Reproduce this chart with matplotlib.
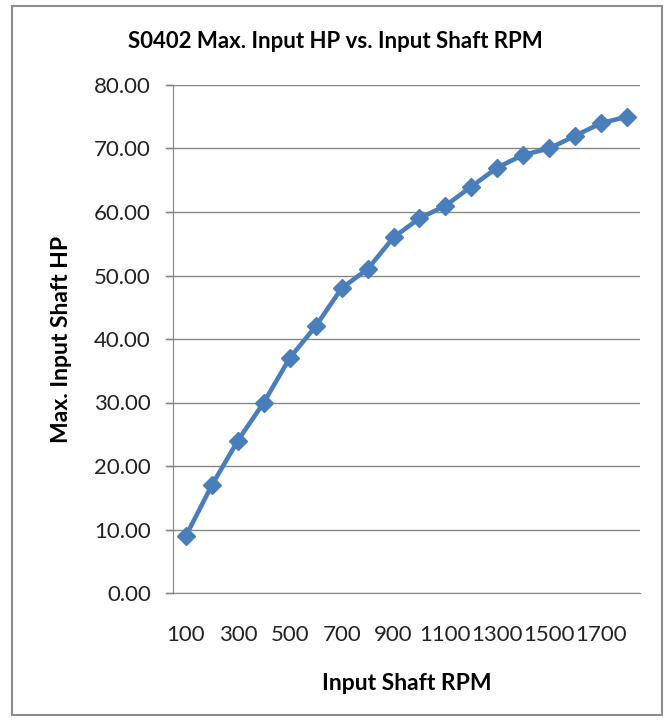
import numpy as np
import matplotlib
matplotlib.use("Agg")
import matplotlib.pyplot as plt
from matplotlib.patches import Rectangle

rpm = [100, 200, 300, 400, 500, 600, 700, 800, 900, 1000,
       1100, 1200, 1300, 1400, 1500, 1600, 1700, 1800]
max_hp = [9, 17, 24, 30, 37, 42, 48, 51, 56, 59,
          61, 64, 67, 69, 70, 72, 74, 75]
y_ticks = [0, 10, 20, 30, 40, 50, 60, 70, 80]

plt.rcParams['font.family'] = ['Lato', 'DejaVu Sans']

W, H = 671, 721
fig = plt.figure(figsize=(W / 100, H / 100), dpi=100)

# outer chart border
fig.patches.append(Rectangle((12 / W, 6 / H), 650 / W, 709 / H,
                             transform=fig.transFigure, fill=False,
                             edgecolor='#8c8c8c', linewidth=1.5))

ax = fig.add_axes([173 / W, 1 - 593 / H, 467 / W, 508 / H])
x = np.arange(len(rpm))
ax.plot(x, max_hp, color='#4a7ebb', linewidth=3.3, marker='D',
        markersize=9.5, markeredgecolor='#4a7ebb', zorder=3)

ax.set_xlim(-0.5, len(rpm) - 0.5)
ax.set_ylim(0, 80)
ax.set_yticks(y_ticks)
ax.set_yticklabels([f"{v:.2f}" for v in y_ticks], fontsize=16, color='#222222')
ax.set_xticks(x[::2])
ax.set_xticklabels([str(r) for r in rpm[::2]], fontsize=16, color='#222222')
ax.tick_params(axis='x', length=0, pad=23)
ax.tick_params(axis='y', length=5, width=1, color='#868686', pad=11)
ax.grid(axis='y', color='#868686', linewidth=1)
for s in ['top', 'right']:
    ax.spines[s].set_visible(False)
ax.spines['left'].set_color('#868686')
ax.spines['bottom'].set_color('#868686')
ax.set_axisbelow(True)

# gridlines extend to the left like the tick marks
for v in y_ticks:
    ax.plot([-0.77, -0.5], [v, v], color='#868686', linewidth=1, clip_on=False)

ax.set_xlabel('Input Shaft RPM', fontsize=16.5, fontweight='bold', labelpad=20)
ax.set_ylabel('Max. Input Shaft HP', fontsize=16.5, fontweight='bold', labelpad=16)
fig.text(0.5, 1 - 42 / H, 'S0402 Max. Input HP vs. Input Shaft RPM',
         ha='center', va='center', fontsize=16, fontweight='bold')

fig.savefig('out.png', dpi=100)
